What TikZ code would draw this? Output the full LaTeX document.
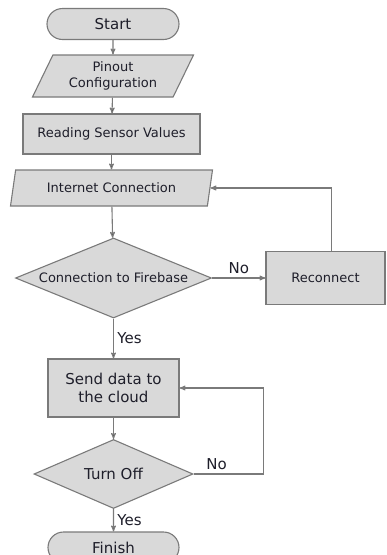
\documentclass[tikz,border=0pt]{standalone}
\usepackage{fontspec}
\setmainfont{DejaVu Sans}
\usetikzlibrary{arrows,shapes.geometric,shapes.misc,positioning}
\definecolor{boxfill}{HTML}{D9D9D9}
\definecolor{boxline}{HTML}{7A7A7A}
\definecolor{inkdark}{HTML}{1E1E2A}

\begin{document}
\begin{tikzpicture}[->,>=stealth',x=1pt,y=1pt,line width=1.1pt,
    base/.style={draw=boxline,fill=boxfill,text=inkdark,inner sep=0pt,align=center,font=\fontsize{13}{15.5}\selectfont},
    big/.style={font=\fontsize{15}{17.5}\selectfont},
    terminal/.style={base,big,rounded rectangle,minimum width=132pt,minimum height=31pt},
    io/.style={base,trapezium,trapezium stretches body},
    process/.style={base,rectangle},
    decision/.style={base,diamond},
    line/.style={draw=boxline},
    lbl/.style={text=inkdark,big}]
  \useasboundingbox (0,0) rectangle (387,-555);
	  \node[terminal] (start) at (113,-24) {Start};
	  \node[io,trapezium left angle=54,trapezium right angle=126,minimum width=161pt,minimum height=42pt] (pinout) [below of=start,node distance=52pt] {Pinout\\Configuration};
	  \node[process,minimum width=177pt,minimum height=40pt] (reading) [below of=pinout,node distance=58pt,xshift=-1.5pt] {Reading Sensor Values};
	  \node[io,trapezium left angle=63,trapezium right angle=117,minimum width=202pt,minimum height=36pt] (inet) [below of=reading,node distance=54pt] {Internet Connection};
	  \node[decision,aspect=2.45,minimum width=196pt,minimum height=80pt] (fb) [below of=inet,node distance=90pt,xshift=2pt] {Connection to Firebase};
	  \node[process,minimum width=119pt,minimum height=53pt] (recon) [right of=fb,node distance=212pt] {Reconnect};
	  \node[process,big,minimum width=131pt,minimum height=58pt] (send) [below of=fb,node distance=110pt] {Send data to\\the cloud};
	  \node[decision,big,aspect=2.3,minimum width=159pt,minimum height=69pt] (turn) [below of=send,node distance=86pt] {Turn Off};
	  \node[terminal,minimum width=131pt] (finish) [below of=turn,node distance=73.5pt] {Finish};
	  \coordinate[right=70pt of turn.east] (offloop);
	  \path[line]
(start) edge (pinout)
(pinout) edge (reading)
(reading) edge (inet)
(inet) edge (fb)
(fb) edge node[lbl,above] {No} (recon)
(fb) edge node[lbl,right] {Yes} (send)
(send) edge (turn)
(turn) edge node[lbl,right] {Yes} (finish)
;
	  \draw[line] ([xshift=6pt]recon.north) |- (inet.east);
	  \draw[line] (turn.east) -- node[lbl,above,pos=0.33] {No} (offloop) |- (send.east);
	\end{tikzpicture}
\end{document}
